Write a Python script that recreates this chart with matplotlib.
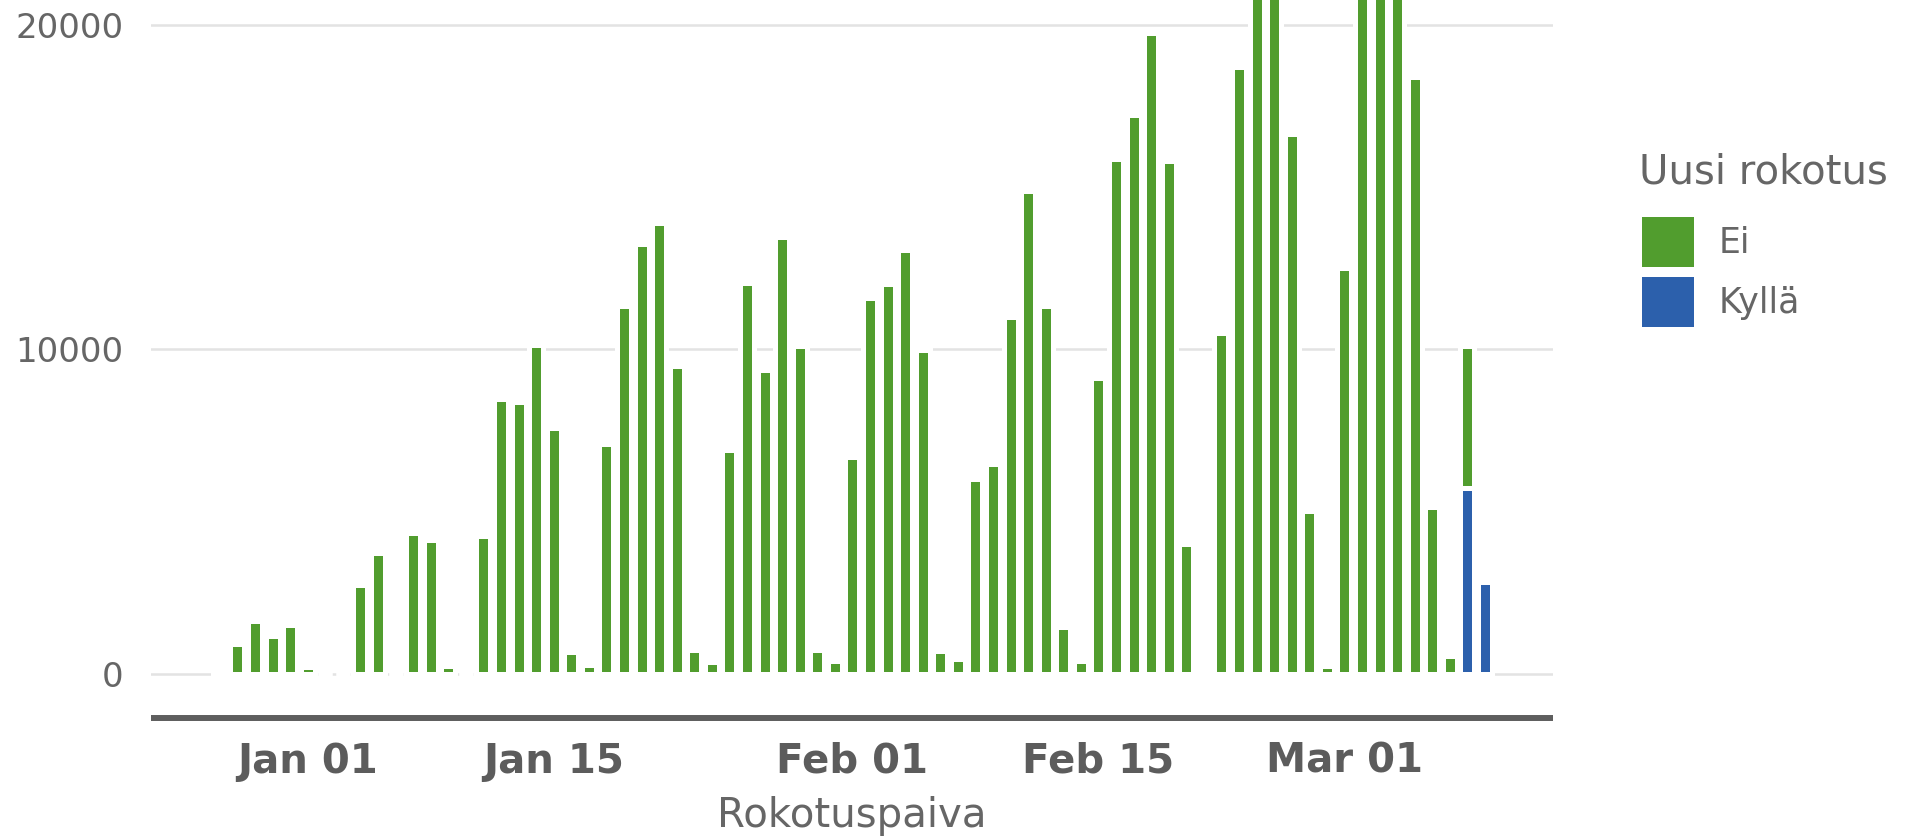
"""
Daily vaccinations in Finland by date, split by whether the dose was a new
(first) vaccination. Stacked daily bars, saved to out.png.
"""

import pandas as pd
import matplotlib

matplotlib.use("Agg")
import matplotlib.pyplot as plt
import matplotlib.dates as mdates
from matplotlib.patches import Patch


# ----------------------------------------------------------------------
# Data: one value per day from 27 Dec 2020 to 9 Mar 2021
# ----------------------------------------------------------------------
start_date = "2020-12-27"

ei_counts = [
    60, 920, 1620, 1170, 1500,                      # Dec 27 - Dec 31
    200, 0, 0, 2720, 3700, 0, 4340, 4110, 230, 0,   # Jan 01 - Jan 10
    4230, 8450, 8380, 10110, 7580, 650, 270,        # Jan 11 - Jan 17
    7060, 11320, 13250, 13880, 9470, 720, 340,      # Jan 18 - Jan 24
    6900, 12040, 9350, 13440, 10080, 720, 380,      # Jan 25 - Jan 31
    6680, 11580, 12000, 13060, 9960, 680, 460,      # Feb 01 - Feb 07
    6000, 6450, 10980, 14870, 11320, 1440, 380,     # Feb 08 - Feb 14
    9100, 15850, 17210, 19740, 15780, 4000, 60,     # Feb 15 - Feb 21
    10490, 18680, 21900, 23100, 16640, 5020, 240,   # Feb 22 - Feb 28
    12490, 24800, 26300, 22700, 18380, 5130, 530,   # Mar 01 - Mar 07
    4360, 0,                                        # Mar 08 - Mar 09
]

kylla_counts = [0] * 71 + [5720, 2820]

legend_title = "Uusi rokotus"
legend_labels = ["Ei", "Kyllä"]
x_label = "Rokotuspaiva"

GREEN = "#519d2e"
BLUE = "#2c60ac"
TEXT = "#666666"

W, H = 1921, 838


def main():
    days = pd.date_range(start_date, periods=len(ei_counts), freq="D")

    fig = plt.figure(figsize=(W / 100, H / 100), dpi=100)
    ax = fig.add_axes([151 / W, 1 - 718 / H, 1402 / W, 718 / H])

    bar_kw = dict(width=0.8, edgecolor="white", linewidth=3.6, zorder=3)
    ax.bar(days, kylla_counts, color=BLUE, **bar_kw)
    ax.bar(days, ei_counts, bottom=kylla_counts, color=GREEN, **bar_kw)

    # axis ranges
    jan1 = mdates.date2num(pd.Timestamp("2021-01-01"))
    ax.set_xlim(jan1 - 8.92, jan1 + 70.87)
    ax.set_ylim(-1371, 20755)

    # gridlines and frame
    ax.set_yticks([0, 10000, 20000])
    ax.grid(axis="y", color="#e3e3e3", linewidth=1.8, zorder=0)
    ax.grid(axis="x", visible=False)
    ax.set_axisbelow(True)
    for side in ("left", "right", "top"):
        ax.spines[side].set_visible(False)
    ax.spines["bottom"].set_color("#5e5e5e")
    ax.spines["bottom"].set_linewidth(4.3)
    ax.spines["bottom"].set_capstyle("butt")

    # date ticks
    ticks = pd.to_datetime(["2021-01-01", "2021-01-15", "2021-02-01",
                            "2021-02-15", "2021-03-01"])
    ax.set_xticks(ticks)
    ax.xaxis.set_major_formatter(mdates.DateFormatter("%b %d"))
    ax.tick_params(axis="x", length=0, pad=17, labelsize=29,
                   labelcolor="#5c5c5c")
    for lbl in ax.get_xticklabels():
        lbl.set_fontweight("bold")
    ax.tick_params(axis="y", length=0, pad=20, labelsize=24.5,
                   labelcolor=TEXT)

    ax.set_xlabel(x_label, fontsize=29, color=TEXT, labelpad=10)

    # legend: title as its own text, keys underneath
    fig.text(1639 / W, 1 - 172 / H, legend_title, fontsize=29, color=TEXT,
             ha="left", va="center")
    handles = [Patch(facecolor=GREEN, edgecolor="none"),
               Patch(facecolor=BLUE, edgecolor="none")]
    leg = fig.legend(handles, legend_labels,
                     loc="upper left",
                     bbox_to_anchor=(1642 / W, 1 - 217 / H),
                     frameon=False, fontsize=25,
                     handlelength=1.5, handleheight=1.86,
                     handletextpad=0.7, labelspacing=0.27,
                     borderpad=0, borderaxespad=0)
    for txt in leg.get_texts():
        txt.set_color(TEXT)

    fig.savefig("out.png", dpi=100)
    plt.close(fig)


if __name__ == "__main__":
    main()
